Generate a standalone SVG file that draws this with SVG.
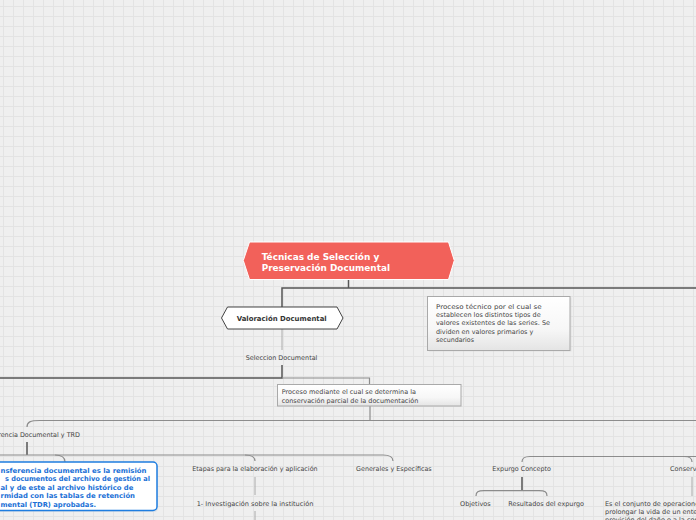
<svg xmlns="http://www.w3.org/2000/svg" width="696" height="520" viewBox="0 0 696 520">
<defs>
<pattern id="grid" width="10" height="10" patternUnits="userSpaceOnUse" x="3" y="6"><path d="M0.5 0V10M0 0.5H10" stroke="#e3e3e3" stroke-width="1" fill="none"/></pattern>
<linearGradient id="gloss" x1="0" y1="0" x2="0" y2="1"><stop offset="0" stop-color="#ffffff"/><stop offset="0.6" stop-color="#f7f7f7"/><stop offset="1" stop-color="#e4e4e4"/></linearGradient>
<style>
.dark{stroke:#555;stroke-width:1.5;fill:none}
.mid{stroke:#8c8c8c;stroke-width:1.2;fill:none}
.light{stroke:#aaa;stroke-width:1;fill:none}
.t{font-family:"DejaVu Sans",Verdana,sans-serif;font-size:6.5px;fill:#454545}
.b{font-family:"DejaVu Sans",Verdana,sans-serif;font-weight:bold}
.note{fill:url(#gloss);stroke:#a9a9a9;stroke-width:1}
</style>
</defs>
<rect width="696" height="520" fill="#efefef"/>
<rect width="696" height="520" fill="url(#grid)"/>

<g id="connectors">
<path class="dark" d="M348.5 279.5V288"/>
<path class="dark" d="M282 307V288H696"/>
<path class="light" d="M282 329V350"/>
<path class="dark" d="M282 365V378H0"/>
<path class="mid" d="M282 378H369.5V384"/>
<path class="mid" d="M370 406V420.5"/>
<path class="mid" d="M27 427C27 422 30 420.5 40 420.5H696"/>
<path class="dark" d="M27 442V455"/>
<path class="mid" d="M0 455H383C390 455 393 457 393 461"/>
<path class="mid" d="M55 455C62 455 65 457 65 462"/>
<path class="mid" d="M245 455C252 455 255 457 255 461"/>
<path class="light" d="M255 477V495M255 511V520"/>
<path class="mid" d="M522 462C522 458 524 456.5 530 456.5H696"/>
<path class="mid" d="M684 456.5C690 456.5 692 458 692 462"/>
<path class="dark" d="M522 477V490.7"/>
<path class="mid" d="M476 496C476 492 478 490.7 484 490.7H539C545 490.7 547 492 547 496"/>
<path class="light" d="M692 477V496"/>
</g>

<g id="node-title">
<polygon points="243.3,260.5 249.5,242 448.5,242 454.3,260.5 448.5,279.5 249.5,279.5" fill="#f2615a" stroke="#ffffff" stroke-width="1"/>
<text class="b" x="261.7" y="260" font-size="9" fill="#ffffff" textLength="117.6" lengthAdjust="spacingAndGlyphs">Técnicas de Selección y</text>
<text class="b" x="261.7" y="270.8" font-size="9" fill="#ffffff" textLength="128.3" lengthAdjust="spacingAndGlyphs">Preservación Documental</text>
</g>

<g id="node-valoracion">
<polygon points="221.5,318 227.5,307 337,307 343,318 337,329 227.5,329" fill="#ffffff" stroke="#444" stroke-width="1"/>
<text class="b" x="236.7" y="320.5" font-size="7" fill="#333" textLength="90" lengthAdjust="spacingAndGlyphs">Valoración Documental</text>
</g>

<g id="node-proceso-tecnico">
<rect x="429" y="297.5" width="142.5" height="54" fill="#d8d8d8" opacity="0.6"/>
<rect class="note" x="427.5" y="296.5" width="142.5" height="54"/>
<text class="t" x="436" y="308.7" textLength="105.6" lengthAdjust="spacingAndGlyphs">Proceso técnico por el cual se</text>
<text class="t" x="436" y="317" textLength="104.7" lengthAdjust="spacingAndGlyphs">establecen los distintos tipos de</text>
<text class="t" x="436" y="325.3" textLength="114" lengthAdjust="spacingAndGlyphs">valores existentes de las series. Se</text>
<text class="t" x="436" y="333.7" textLength="97.3" lengthAdjust="spacingAndGlyphs">dividen en valores primarios y</text>
<text class="t" x="436" y="342" textLength="38" lengthAdjust="spacingAndGlyphs">secundarios</text>
</g>

<g id="node-seleccion">
<text class="t" x="245.7" y="359.5" textLength="71.7" lengthAdjust="spacingAndGlyphs">Seleccion Documental</text>
</g>

<g id="node-proceso-mediante">
<rect class="note" x="277.5" y="384.5" width="183.5" height="21.5"/>
<text class="t" x="281.7" y="394" textLength="134.3" lengthAdjust="spacingAndGlyphs">Proceso mediante el cual se determina la</text>
<text class="t" x="281.7" y="402.5" textLength="136.6" lengthAdjust="spacingAndGlyphs">conservación parcial de la documentación</text>
</g>

<g id="node-transferencia">
<text class="t" x="-25" y="436.5" textLength="105" lengthAdjust="spacingAndGlyphs">Transferencia Documental y TRD</text>
</g>

<g id="node-transferencia-def">
<rect x="-8" y="463" width="166" height="49" rx="4" fill="#cfd8e3" opacity="0.6"/>
<rect x="-9" y="462" width="166" height="48.5" rx="4" fill="#ffffff" stroke="#1f7ee0" stroke-width="1.5"/>
<g class="b" font-size="6.8" fill="#1a70d6">
<text x="0.5" y="472.5" textLength="146" lengthAdjust="spacingAndGlyphs">nsferencia documental es la remisión</text>
<text x="5" y="481" textLength="145" lengthAdjust="spacingAndGlyphs">s documentos del archivo de gestión al</text>
<text x="0.5" y="489.5" textLength="132.8" lengthAdjust="spacingAndGlyphs">al y de este al archivo histórico de</text>
<text x="0.5" y="498" textLength="134.5" lengthAdjust="spacingAndGlyphs">rmidad con las tablas de retención</text>
<text x="0.5" y="506.5" textLength="95.5" lengthAdjust="spacingAndGlyphs">mental (TDR) aprobadas.</text>
</g>
</g>

<g id="node-etapas">
<text class="t" x="192.3" y="471" textLength="125.3" lengthAdjust="spacingAndGlyphs">Etapas para la elaboración y aplicación</text>
</g>
<g id="node-investigacion">
<text class="t" x="196.7" y="505.5" textLength="116.7" lengthAdjust="spacingAndGlyphs">1- Investigación sobre la institución</text>
</g>
<g id="node-generales">
<text class="t" x="356" y="471" textLength="75.7" lengthAdjust="spacingAndGlyphs">Generales y Específicas</text>
</g>
<g id="node-expurgo">
<text class="t" x="492.3" y="471" textLength="58.7" lengthAdjust="spacingAndGlyphs">Expurgo Concepto</text>
</g>
<g id="node-objetivos">
<text class="t" x="460" y="505.5" textLength="30.7" lengthAdjust="spacingAndGlyphs">Objetivos</text>
</g>
<g id="node-resultados">
<text class="t" x="508.3" y="505.5" textLength="75.7" lengthAdjust="spacingAndGlyphs">Resultados del expurgo</text>
</g>
<g id="node-conservacion">
<text class="t" x="670" y="471">Conservación</text>
</g>
<g id="node-conservacion-def">
<text class="t" x="605" y="505.5">Es el conjunto de operaciones</text>
<text class="t" x="605" y="513.5">prolongar la vida de un ente</text>
<text class="t" x="605" y="521.5">previsión del daño o a la corrección</text>
</g>
</svg>
